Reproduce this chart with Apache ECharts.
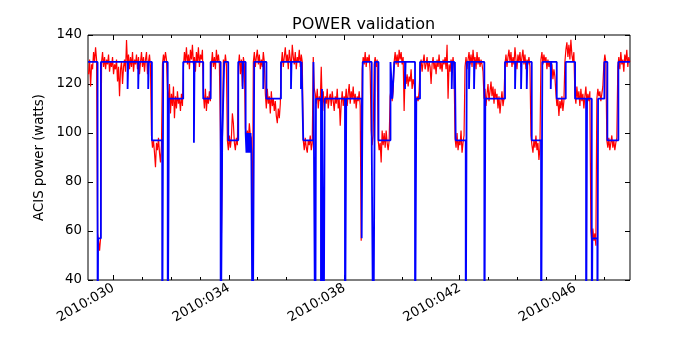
<!DOCTYPE html>
<html>
<head>
<meta charset="utf-8">
<title>POWER validation</title>
<script src="https://cdn.jsdelivr.net/npm/echarts@6/dist/echarts.min.js"></script>
<style>
  html, body { margin: 0; padding: 0; background: #fff; }
  #chart { width: 700px; height: 350px; }
</style>
</head>
<body>
<div id="chart"></div>
<script>
// day-of-year axis (2010)
const dayMin = 29.12
const dayMax = 47.9
const majorDays = [30, 34, 38, 42, 46]
const minorDays = [31, 32, 33, 35, 36, 37, 39, 40, 41, 43, 44, 45, 47]

// telemetry: evenly sampled ACIS power (watts)
const telemStart = 29.14
const telemStep = 0.0346
const telemPower = [
  124, 130, 119, 128, 126, 133, 129, 135, 130,
  59, 56, 52, 57,
  129, 133, 127, 131, 126, 130, 128, 132, 125, 129,
  127, 131, 124, 128, 126, 130, 121, 127, 115, 126,
  129, 120, 127, 130, 125, 138, 128, 132, 126, 131,
  127, 133, 125, 130, 128, 132, 126, 131, 124, 129,
  133, 127, 131, 125, 130, 133, 124, 129, 132, 127,
  99, 94, 97, 92, 86, 96, 93, 98, 92, 88, 95,
  128, 132, 129, 133, 130,
  118, 112, 120, 108, 116, 111, 119, 106, 115, 110, 117, 112, 114, 109, 116, 111,
  127, 133, 129, 135, 128, 132, 126, 134, 130, 136, 128, 131, 125, 133, 129, 135, 127, 132, 130, 134,
  116, 110, 118, 109, 115, 112, 117, 113,
  128, 133, 127, 131, 126, 134, 129, 132, 128,
  101, 57, 97,
  130, 127, 132, 128,
  97, 93, 99, 94, 98, 108, 104, 96, 93, 98, 95,
  127, 132, 124, 130, 119, 131, 128,
  102, 98, 101, 97, 104, 99,
  98, 56,
  129, 133, 127, 131, 134, 128, 132, 126, 130, 127, 133, 129,
  116, 110, 118, 112, 115, 108, 117, 111, 114, 109, 113, 107, 104, 110, 106, 112,
  128, 133, 127, 131, 135, 129, 132, 126, 134, 130, 127, 136, 131, 128, 133, 126, 131, 129, 134, 127, 132, 129,
  97, 93, 98, 94, 92, 97, 95, 99, 93, 96,
  131, 118,
  116, 112, 118, 110, 115, 113, 127, 111, 117, 109,
  115, 112, 118, 110, 114, 116, 111, 117, 113, 109,
  115, 112, 118, 110, 114, 103, 112, 117, 111, 115,
  113, 118, 111, 116, 120, 112, 117, 114, 119, 112, 116, 110, 115, 113, 117, 111,
  56,
  126, 131, 128, 133, 127, 131, 129, 132, 125,
  101, 95, 99,
  128, 131, 127, 130,
  97, 93, 96, 88, 101, 95, 100, 94, 101, 96, 93, 97,
  115, 118, 113, 117,
  129, 133, 128, 132, 127, 134, 130, 133, 128, 131, 109,
  125, 120, 124, 119, 123, 121, 126, 118, 122, 120,
  116, 112, 115, 113, 117,
  127, 130, 125, 129, 132, 126, 128, 131, 125, 129,
  127, 120, 128, 131, 126, 129, 124, 130, 127, 132,
  126, 129, 125, 130, 128, 131, 126, 136, 114, 128,
  125, 130, 127, 131, 126,
  98, 94, 100, 93, 97, 95, 101, 92, 96, 99,
  127, 131, 126, 130, 133, 128, 132, 127, 134, 129, 131, 126, 133, 128, 131, 127, 130, 128, 125,
  114, 118, 111, 116, 120, 113, 117, 121, 115, 119, 112, 118, 114, 116, 110, 115, 108, 113, 117, 111, 114,
  128, 132, 127, 131, 134, 129, 133, 127, 131, 128, 135, 130, 126,
  132, 129, 133, 127, 131, 134, 128, 132, 126, 130, 128, 131, 127,
  99, 95, 92, 97, 94, 99, 93, 96, 89, 94,
  130, 133, 128, 132, 129, 131, 126, 130, 127, 129, 124, 128, 122, 126, 123,
  116, 111, 114, 107, 113, 110, 115, 109, 113,
  129, 134, 137, 131, 136, 130, 138, 132, 129, 133,
  116, 112, 119, 114, 117, 111, 118, 113, 116, 110, 115, 119, 112, 116, 113, 117,
  60, 55, 61, 56, 59, 54,
  114, 118, 115, 117, 113, 116, 119,
  128, 132, 129,
  97, 94, 98, 93, 96, 99, 94, 97, 93, 96, 98,
  127, 131, 126, 133, 128, 130, 125, 132, 129, 134, 127, 131, 129
]

// model: step changes (day, watts); 0 = off the bottom of the plot
const modelDays = [
  29.12, 29.452, 29.47, 29.567, 30.492, 30.513, 30.86, 30.88, 31.206, 31.227,
  31.334, 31.691, 31.726, 31.882, 31.924, 32.419, 32.79, 32.811, 33.113, 33.369,
  33.716, 33.771, 33.84, 33.979, 34.326, 34.478, 34.499, 34.582, 34.61, 34.638,
  34.669, 34.697, 34.724, 34.752, 34.78, 34.825, 34.88, 35.192, 35.213, 35.303,
  35.806, 36.153, 36.173, 36.499, 36.52, 36.579, 36.932, 36.995, 37.019, 37.192,
  37.227, 37.286, 37.321, 38.024, 38.069, 38.603, 38.638, 38.95, 39.005, 39.064,
  39.185, 39.601, 39.664, 39.733, 40.104, 40.125, 40.451, 40.496, 40.624, 41.723,
  41.743, 41.813, 41.834, 41.861, 42.208, 42.243, 42.322, 42.343, 42.496, 42.516,
  42.853, 42.887, 43.57, 43.917, 43.938, 44.125, 44.146, 44.322, 44.343, 44.496,
  44.818, 44.863, 45.154, 45.175, 45.362, 45.674, 45.997, 46.378, 46.412, 46.575,
  46.596, 46.769, 46.794, 47.012, 47.116, 47.497, 47.9
]
const modelPower = [
  129, 0, 57, 129, 118, 129, 118, 129, 118, 129,
  97, 0, 129, 0, 114, 129, 96, 129, 114, 129,
  0, 98, 129, 97, 129, 118, 129, 100, 92, 100,
  92, 100, 92, 100, 92, 0, 129, 118, 129, 114,
  129, 118, 129, 118, 129, 97, 129, 0, 114, 0,
  118, 0, 114, 0, 114, 57, 129, 97, 0, 129,
  97, 129, 114, 129, 118, 129, 0, 114, 129, 118,
  129, 118, 129, 97, 0, 129, 118, 129, 118, 129,
  0, 114, 129, 118, 129, 118, 129, 118, 129, 97,
  0, 129, 118, 129, 114, 129, 114, 0, 114, 0,
  57, 0, 114, 129, 97, 129, 129
]

const font = { fontFamily: 'DejaVu Sans', color: '#000' }

function dayAxis(position, tickDays, tickLen, showLabels) {
  return {
    type: 'value',
    position: position,
    min: dayMin,
    max: dayMax,
    axisLine: { show: false },
    splitLine: { show: false },
    axisTick: {
      inside: true,
      length: tickLen,
      customValues: tickDays,
      lineStyle: { color: '#000', width: 1 }
    },
    axisLabel: showLabels
      ? {
          customValues: tickDays,
          rotate: 30,
          margin: 7,
          fontSize: 13.3,
          ...font,
          formatter: (v) => '2010:0' + Math.round(v)
        }
      : { show: false }
  }
}

function powerAxis(position, showLabels) {
  return {
    type: 'value',
    position: position,
    min: 40,
    max: 140,
    interval: 20,
    name: showLabels ? 'ACIS power (watts)' : '',
    nameLocation: 'middle',
    nameRotate: 90,
    nameGap: 36,
    nameTextStyle: { fontSize: 13.3, ...font },
    axisLine: { show: false },
    splitLine: { show: false },
    axisTick: { inside: true, length: 5, lineStyle: { color: '#000', width: 1 } },
    axisLabel: showLabels ? { margin: 6, fontSize: 13.3, ...font } : { show: false }
  }
}

const chart = echarts.init(document.getElementById('chart'), null, { renderer: 'canvas' })

chart.setOption({
  animation: false,
  backgroundColor: '#fff',
  title: {
    text: 'POWER validation',
    left: 287,
    top: 12,
    textStyle: { fontSize: 16, fontWeight: 'normal', ...font }
  },
  grid: {
    left: 88,
    top: 35,
    width: 542,
    height: 245,
    show: true,
    borderColor: '#000',
    borderWidth: 1,
    backgroundColor: '#fff'
  },
  xAxis: [
    dayAxis('bottom', majorDays, 5, true),
    dayAxis('bottom', minorDays, 3, false),
    dayAxis('top', majorDays, 5, false),
    dayAxis('top', minorDays, 3, false)
  ],
  yAxis: [powerAxis('left', true), powerAxis('right', false)],
  series: [
    {
      name: 'telemetry',
      type: 'line',
      showSymbol: false,
      clip: true,
      lineStyle: { color: '#ff0000', width: 1.2 },
      data: telemPower.map((v, i) => [telemStart + i * telemStep, v])
    },
    {
      name: 'model',
      type: 'line',
      step: 'end',
      showSymbol: false,
      clip: true,
      lineStyle: { color: '#0000ff', width: 1.8 },
      data: modelDays.map((d, i) => [d, modelPower[i]])
    }
  ]
})
</script>
</body>
</html>
